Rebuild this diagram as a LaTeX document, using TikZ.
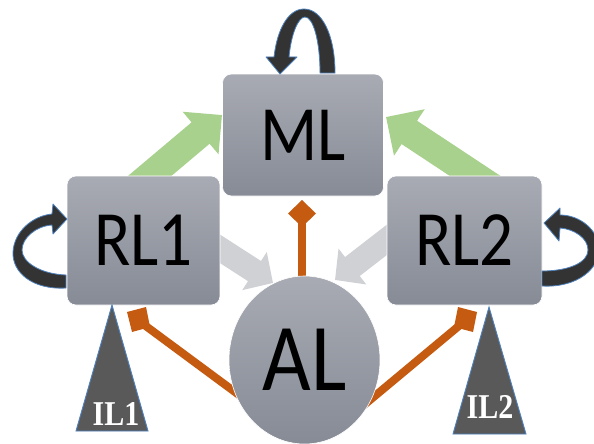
\documentclass[tikz,border=0pt]{standalone}
\usepackage{fontspec}
\newfontfamily\boxfont{Carlito}
\newfontfamily\ilfont{Liberation Serif}
\usetikzlibrary{arrows.meta,shapes.geometric,calc}
\definecolor{boxtop}{HTML}{A8ABB3}
\definecolor{boxbot}{HTML}{868B96}
\definecolor{grn}{HTML}{A9D18E}
\definecolor{lgray}{HTML}{D0D1D5}
\definecolor{orng}{HTML}{C55A11}
\definecolor{loopc}{HTML}{333333}
\definecolor{edgeb}{HTML}{4F81BD}
\definecolor{trif}{HTML}{595959}
\begin{document}
\begin{tikzpicture}[x=1pt,y=-1pt,
  layerbox/.style={rectangle, rounded corners=9pt, top color=boxtop, bottom color=boxbot,
    draw=white, line width=0.6pt, inner sep=0pt,
    font=\boxfont\fontsize{67}{67}\selectfont},
  layercirc/.style={ellipse, top color=boxtop, bottom color=boxbot,
    draw=white, line width=0.6pt, inner sep=0pt,
    font=\boxfont\fontsize{84}{84}\selectfont},
  greenarrow/.style={draw=grn, line width=28pt, -{Triangle[length=28pt,width=54pt]}},
  grayarrow/.style={draw=lgray, line width=24pt, -{Triangle[length=22pt,width=44pt]}},
  orangeline/.style={draw=orng, line width=8pt},
  orangebar/.style={fill=orng},
  loopshape/.style={fill=loopc, draw=edgeb, line width=0.8pt, line join=round},
  inputtri/.style={fill=trif, draw=edgeb, line width=0.9pt},
  illabel/.style={text=white, inner sep=0pt, font=\ilfont\bfseries\fontsize{30}{30}\selectfont}
]
\useasboundingbox (0,0) rectangle (594,444);

% connector end points
\coordinate (g1s) at (114,206);
\coordinate (g1e) at (222,115);
\coordinate (g2s) at (504,195);
\coordinate (g2e) at (386,117);
\coordinate (r1s) at (197,234);
\coordinate (r1e) at (273,283);
\coordinate (r2s) at (406,225);
\coordinate (r2e) at (335,280);
\coordinate (o0s) at (302,300);
\coordinate (o0e) at (302,200);
\coordinate (o1s) at (258,409);
\coordinate (o1e) at (139,321);
\coordinate (o2s) at (358,410);
\coordinate (o2e) at (466,320);

% green arrows RL -> ML
\draw[greenarrow] (g1s) -- (g1e);
\draw[greenarrow] (g2s) -- (g2e);
% gray arrows RL -> AL
\draw[grayarrow] (r1s) -- (r1e);
\draw[grayarrow] (r2s) -- (r2e);
% orange connectors from AL
\draw[orangeline, -{Diamond[length=27pt,width=28pt]}] (o0s) -- (o0e);
\draw[orangeline] (o1s) -- (o1e);
\draw[orangeline] (o2s) -- (o2e);
\path[orangebar] (127,312) -- (146,307) -- (150,327) -- (132,332) -- cycle;
\path[orangebar] (458,307) -- (477,312) -- (473,332) -- (454,327) -- cycle;

% nodes
\node[layerbox, minimum width=161pt, minimum height=122pt] (ML) at (303,135) {\scalebox{1}[1.17]{ML}};
\node[layerbox, minimum width=153pt, minimum height=129pt] (RL1) at (143.5,240.5) {\scalebox{1}[1.17]{RL1}};
\node[layerbox, minimum width=155pt, minimum height=129pt] (RL2) at (464.5,240.5) {\scalebox{1}[1.17]{RL2}};
\node[layercirc, minimum width=151pt, minimum height=168pt] (AL) at (304.5,360) {\scalebox{1}[1.14]{AL}};

% self loops
\path[loopshape] (335,73) .. controls (335,35) and (322,9) .. (304,9)
  .. controls (288,9) and (277,30) .. (274,57)
  -- (266,57) -- (280,74) -- (297,57) -- (289,57)
  .. controls (291,35) and (298,17) .. (305,17)
  .. controls (313,17) and (320,40) .. (320,73) -- cycle;
\path[loopshape] (66,288) .. controls (32,290) and (12,272) .. (13,252)
  .. controls (14,232) and (32,216) .. (52,214)
  -- (53,204) -- (67,219) -- (53,234) -- (52,225)
  .. controls (36,226) and (22,238) .. (22,250)
  .. controls (22,262) and (40,274) .. (66,275) -- cycle;
\path[loopshape] (542,286) .. controls (578,288) and (600,268) .. (599,248)
  .. controls (598,230) and (580,215) .. (560,215)
  -- (560,208) -- (544,223) -- (559,241) -- (560,228)
  .. controls (574,229) and (588,238) .. (588,250)
  .. controls (588,262) and (570,271) .. (542,271) -- cycle;

% input triangles
\path[inputtri] (112,305) -- (148,431) -- (76,431) -- cycle;
\path[inputtri] (489,307) -- (526,434) -- (453,434) -- cycle;
\node[illabel] (IL1) at (116,414) {\scalebox{1}[1.16]{IL1}};
\node[illabel] (IL2) at (490,407) {\scalebox{1}[1.16]{IL2}};
\end{tikzpicture}
\end{document}
